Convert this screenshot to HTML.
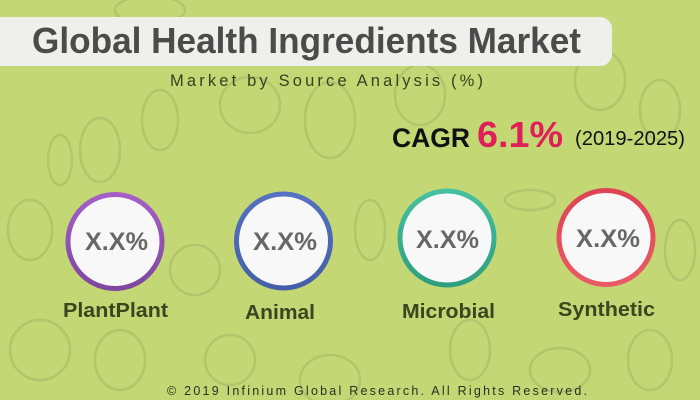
<!DOCTYPE html>
<html>
<head>
<meta charset="utf-8">
<style>
html,body{margin:0;padding:0;background:#c3d874;}
svg{display:block;}
</style>
</head>
<body>
<svg width="700" height="400" viewBox="0 0 700 400" xmlns="http://www.w3.org/2000/svg">
  <defs>
    <linearGradient id="gp" x1="0" y1="0" x2="0" y2="1"><stop offset="0" stop-color="#a55fc6"/><stop offset="1" stop-color="#7e47a0"/></linearGradient>
    <linearGradient id="gb" x1="0" y1="0" x2="0" y2="1"><stop offset="0" stop-color="#5472c0"/><stop offset="1" stop-color="#4560a8"/></linearGradient>
    <linearGradient id="gt" x1="0" y1="0" x2="0" y2="1"><stop offset="0" stop-color="#46c0a0"/><stop offset="1" stop-color="#2f9e80"/></linearGradient>
    <linearGradient id="gr" x1="0" y1="0" x2="0" y2="1"><stop offset="0" stop-color="#de4454"/><stop offset="1" stop-color="#ea5a64"/></linearGradient>
  </defs>
  <rect width="700" height="400" fill="#c3d874"/>
  <!-- faint doodles -->
  <g fill="none" stroke="#b1c66c" stroke-width="2.5">
    <ellipse cx="160" cy="120" rx="18" ry="30"/>
    <ellipse cx="60" cy="160" rx="12" ry="25"/>
    <ellipse cx="100" cy="150" rx="20" ry="32"/>
    <ellipse cx="150" cy="10" rx="35" ry="14"/>
    <ellipse cx="250" cy="105" rx="30" ry="28"/>
    <ellipse cx="330" cy="120" rx="25" ry="38"/>
    <ellipse cx="420" cy="95" rx="25" ry="30"/>
    <ellipse cx="520" cy="30" rx="35" ry="12"/>
    <ellipse cx="600" cy="80" rx="25" ry="30"/>
    <ellipse cx="660" cy="110" rx="20" ry="30"/>
    <ellipse cx="30" cy="230" rx="22" ry="30"/>
    <ellipse cx="195" cy="270" rx="25" ry="25"/>
    <ellipse cx="370" cy="230" rx="15" ry="30"/>
    <ellipse cx="530" cy="200" rx="25" ry="10"/>
    <ellipse cx="680" cy="250" rx="15" ry="30"/>
    <ellipse cx="40" cy="350" rx="30" ry="30"/>
    <ellipse cx="120" cy="360" rx="25" ry="30"/>
    <ellipse cx="230" cy="360" rx="25" ry="25"/>
    <ellipse cx="330" cy="380" rx="30" ry="25"/>
    <ellipse cx="470" cy="350" rx="20" ry="30"/>
    <ellipse cx="560" cy="370" rx="30" ry="22"/>
    <ellipse cx="650" cy="360" rx="22" ry="30"/>
  </g>

  <!-- title bar -->
  <rect x="-20" y="17" width="632" height="49" rx="12" fill="#efefeb"/>
  <text x="32" y="53" font-family="Liberation Sans, sans-serif" font-weight="bold" font-size="36" fill="#4b4b4b" textLength="549" lengthAdjust="spacingAndGlyphs">Global Health Ingredients Market</text>

  <text x="170" y="86" font-family="Liberation Sans, sans-serif" font-size="16.5" fill="#3b3f1f" textLength="313" lengthAdjust="spacing">Market by Source Analysis (%)</text>

  <!-- CAGR -->
  <text x="392" y="147" font-family="Liberation Sans, sans-serif" font-weight="bold" font-size="27" fill="#111" textLength="78" lengthAdjust="spacingAndGlyphs">CAGR</text>
  <text x="477" y="147" font-family="Liberation Sans, sans-serif" font-weight="bold" font-size="36" fill="#e01e57" textLength="86" lengthAdjust="spacingAndGlyphs">6.1%</text>
  <text x="575" y="145" font-family="Liberation Sans, sans-serif" font-size="20" fill="#111" textLength="110" lengthAdjust="spacingAndGlyphs">(2019-2025)</text>

  <!-- circles -->
  <circle cx="115" cy="241.5" r="47" fill="#f8f8f8" stroke="url(#gp)" stroke-width="5"/>
  <circle cx="283.5" cy="241" r="47" fill="#f8f8f8" stroke="url(#gb)" stroke-width="5"/>
  <circle cx="447" cy="238" r="47" fill="#f8f8f8" stroke="url(#gt)" stroke-width="5"/>
  <circle cx="606" cy="237.5" r="47" fill="#f8f8f8" stroke="url(#gr)" stroke-width="5"/>

  <g font-family="Liberation Sans, sans-serif" font-weight="bold" font-size="25" fill="#676767">
    <text x="85" y="250" textLength="63" lengthAdjust="spacingAndGlyphs">X.X%</text>
    <text x="253" y="250" textLength="64" lengthAdjust="spacingAndGlyphs">X.X%</text>
    <text x="416" y="248" textLength="63" lengthAdjust="spacingAndGlyphs">X.X%</text>
    <text x="576" y="247" textLength="64" lengthAdjust="spacingAndGlyphs">X.X%</text>
  </g>

  <g font-family="Liberation Sans, sans-serif" font-weight="bold" font-size="20" fill="#3d4421">
    <text x="63" y="317" textLength="105" lengthAdjust="spacingAndGlyphs">PlantPlant</text>
    <text x="245" y="319" textLength="70" lengthAdjust="spacingAndGlyphs">Animal</text>
    <text x="402" y="318" textLength="93" lengthAdjust="spacingAndGlyphs">Microbial</text>
    <text x="558" y="316" textLength="97" lengthAdjust="spacingAndGlyphs">Synthetic</text>
  </g>

  <text x="167" y="395" font-family="Liberation Sans, sans-serif" font-size="12.5" fill="#2e2e22" textLength="420" lengthAdjust="spacing">© 2019 Infinium Global Research. All Rights Reserved.</text>
</svg>
</body>
</html>
